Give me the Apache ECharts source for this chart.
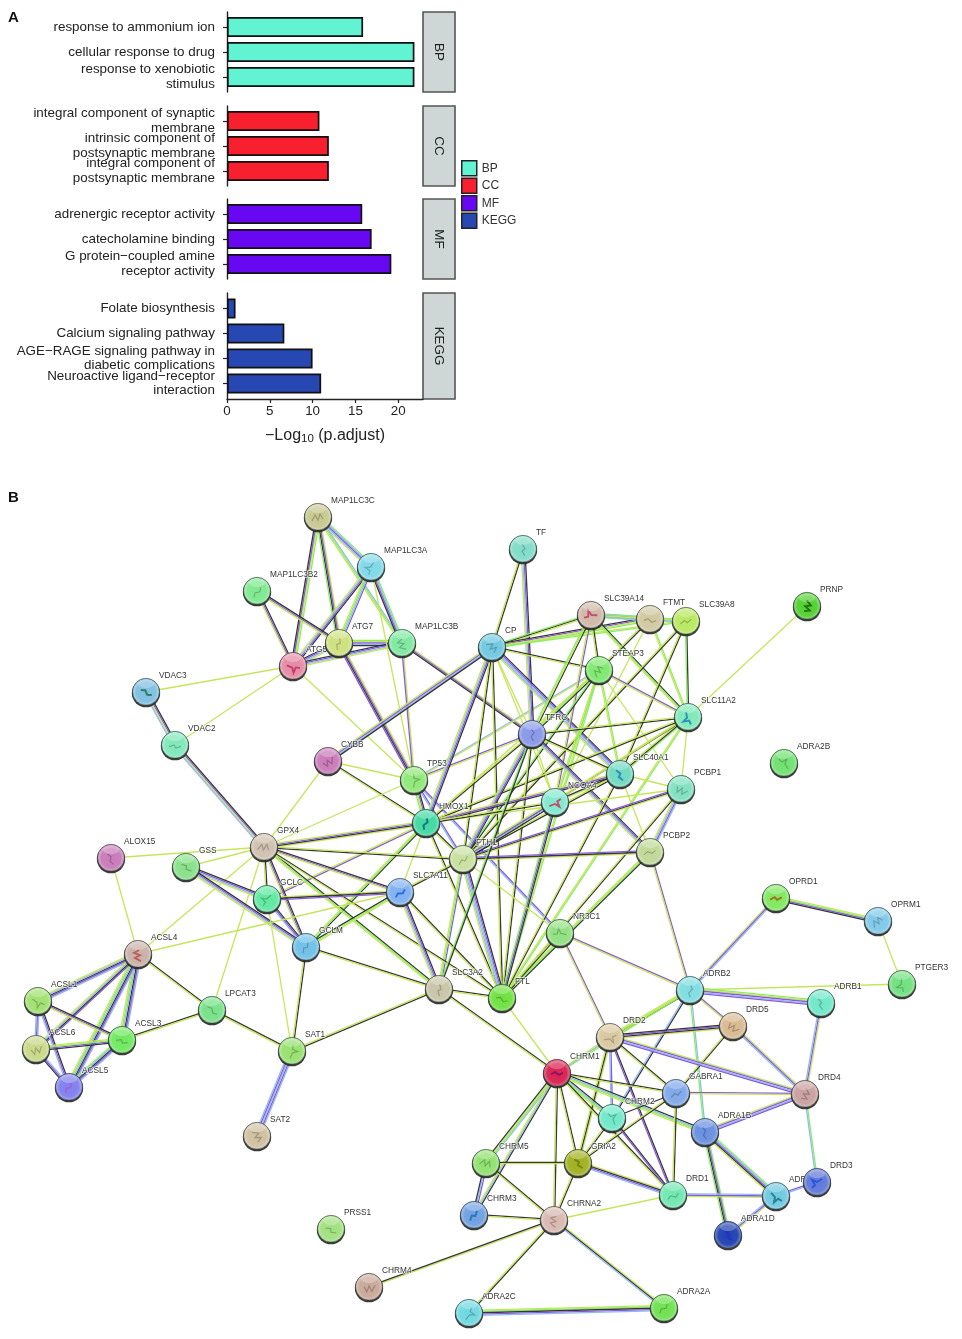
<!DOCTYPE html>
<html><head><meta charset="utf-8">
<style>html,body{margin:0;padding:0;background:#fff}#c{width:962px;height:1339px;filter:blur(0.55px)}</style>
<script src="https://cdn.jsdelivr.net/npm/echarts@6/dist/echarts.min.js"></script>
</head><body><div id="c"></div>
<script>
const bpTerms=['response to ammonium ion','cellular response to drug','response to xenobiotic\nstimulus'];
const bpValues=[15.9,21.9,21.9];
const ccTerms=['integral component of synaptic\nmembrane','intrinsic component of\npostsynaptic membrane','integral component of\npostsynaptic membrane'];
const ccValues=[10.8,11.9,11.9];
const mfTerms=['adrenergic receptor activity','catecholamine binding','G protein\u2212coupled amine\nreceptor activity'];
const mfValues=[15.8,16.9,19.2];
const keggTerms=['Folate biosynthesis','Calcium signaling pathway','AGE\u2212RAGE signaling pathway in\ndiabetic complications','Neuroactive ligand\u2212receptor\ninteraction'];
const keggValues=[1.0,6.7,10.0,11.0];
const xTicks=[0,5,10,15,20];

const nodeNames=['MAP1LC3C','MAP1LC3A','MAP1LC3B2','ATG7','MAP1LC3B','ATG5','VDAC3','VDAC2','CYBB','TP53','HMOX1','TF','CP','SLC39A14','FTMT','SLC39A8','STEAP3','SLC11A2','TFRC','SLC40A1','PCBP1','NCOA4','PCBP2','FTH1','PRNP','ADRA2B','ALOX15','GSS','GPX4','GCLC','SLC7A11','GCLM','ACSL4','ACSL1','LPCAT3','ACSL3','ACSL6','SAT1','ACSL5','SLC3A2','SAT2','NR3C1','FTL','OPRD1','OPRM1','PTGER3','ADRB2','ADRB1','DRD5','DRD2','CHRM1','GABRA1','DRD4','CHRM2','ADRA1B','GRIA2','CHRM5','DRD3','DRD1','CHRM3','CHRNA2','ADRA1A','ADRA1D','PRSS1','CHRM4','ADRA2C','ADRA2A'];
const nodeX=[318,371,257,339,402,293,146,175,328,414,426,523,492,591,650,686,599,688,532,620,681,555,650,463,807,784,111,186,264,267,400,306,138,38,212,122,36,292,69,439,257,560,502,776,878,902,690,821,733,610,557,676,805,612,705,578,486,817,673,474,554,776,728,331,369,469,664];
const nodeY=[517,567,591,643,643,666,692,745,761,780,823,549,647,615,619,621,670,717,734,774,789,802,852,859,606,763,858,867,847,899,892,947,954,1001,1010,1040,1049,1051,1087,989,1136,933,998,898,921,984,990,1003,1026,1037,1073,1093,1094,1118,1132,1163,1163,1182,1195,1215,1220,1196,1235,1229,1287,1313,1308];
const nodeColours=['#c6c78f','#7fd8e8','#7fe88f','#cfe07f','#7fe8a0','#e58aa5','#7fbfe0','#7fe8bb','#c87ab8','#8fe878','#40d8a0','#80dcc8','#6fc8e0','#d0b8a8','#d0c8a0','#b8e860','#80e870','#80e8b8','#8898e8','#70d8c0','#80e0c0','#80e8d0','#c0d898','#c8e0a0','#50d030','#70e070','#c87ab8','#88e088','#d0c0b0','#60e8a0','#80b0f0','#70c0e8','#c8b0a8','#a0e070','#78e088','#70e860','#c8d888','#98e070','#8080f0','#c8c4a8','#d0c0a0','#90e080','#70e040','#80e860','#80c8e8','#70e080','#80dce0','#70e8c8','#d8b890','#d8c8a0','#d82050','#80a8e8','#c8a0a0','#70e8c8','#6890e0','#a0b020','#90e070','#6078d8','#70e8b0','#70a0e0','#d8b8b0','#70c8e0','#2040b0','#a0e080','#c8a898','#70d8e0','#70e050'];
const glyphColours={NCOA4:'#d0305a',SLC7A11:'#2060e0',ADRA1D:'#2030d0',ACSL5:'#a060d0',ATG5:'#c03060',SLC11A2:'#2080c0',SLC40A1:'#2080c0',GRIA2:'#708010',CHRM1:'#801060',HMOX1:'#106080',PRNP:'#206010',OPRD1:'#a06010',ACSL4:'#c05050',VDAC3:'#207050',SLC39A14:'#c04060',CHRM3:'#2070c0',DRD3:'#2050e0',ADRA1A:'#207080'};
const edges=[
['MAP1LC3C','MAP1LC3A','gbpbt'],['MAP1LC3C','ATG5','gtpk'],['MAP1LC3C','ATG7','tpkg'],['MAP1LC3C','MAP1LC3B','bgt'],['MAP1LC3A','ATG5','kpbt'],['MAP1LC3A','ATG7','pbgt'],['MAP1LC3A','MAP1LC3B','gbpk'],['MAP1LC3B2','ATG5','kpt'],['MAP1LC3B2','ATG7','kpt'],['ATG7','MAP1LC3B','gtpbk'],['ATG5','ATG7','kpbt'],['ATG5','MAP1LC3B','kpbt'],['ATG5','VDAC3','t'],['ATG5','VDAC2','t'],['ATG5','TP53','t'],['ATG7','TP53','tpkp'],['MAP1LC3A','TP53','t'],['MAP1LC3B','TP53','tp'],['MAP1LC3B','TFRC','tpk'],['VDAC3','VDAC2','kptb'],['VDAC2','GPX4','kptb'],
['CYBB','CP','tpbk'],['CYBB','TP53','t'],['CYBB','HMOX1','kt'],['CYBB','GPX4','t'],['TP53','HMOX1','kptg'],['TP53','GPX4','t'],['TP53','TFRC','pt'],['TP53','STEAP3','bt'],['TP53','FTH1','pb'],['TP53','NR3C1','pb'],
['TF','CP','kt'],['TF','TFRC','kpbt'],['CP','SLC39A14','gkt'],['CP','FTMT','kptg'],['CP','SLC39A8','tg'],['CP','STEAP3','kt'],['CP','TFRC','t'],['CP','HMOX1','kpbt'],['CP','FTH1','kt'],['CP','FTL','kt'],['CP','SLC40A1','kpbbt'],['CP','NCOA4','t'],
['SLC39A14','FTMT','bpbg'],['FTMT','SLC39A8','bb'],['SLC39A14','SLC39A8','gtb'],['SLC39A14','STEAP3','kt'],['SLC39A14','SLC11A2','kgt'],['SLC39A14','TFRC','ktg'],['SLC39A14','NCOA4','pt'],['FTMT','STEAP3','kt'],['FTMT','NCOA4','t'],['FTMT','SLC11A2','gt'],['SLC39A8','SLC11A2','kg'],['SLC39A8','SLC40A1','kt'],['SLC39A8','FTH1','kt'],
['STEAP3','SLC11A2','pt'],['STEAP3','TFRC','kgt'],['STEAP3','SLC40A1','gt'],['STEAP3','PCBP1','t'],['STEAP3','FTL','gt'],['STEAP3','FTH1','kg'],['STEAP3','HMOX1','t'],['STEAP3','NCOA4','gt'],['SLC11A2','TFRC','kt'],['SLC11A2','SLC40A1','gkt'],['SLC11A2','FTH1','kt'],['SLC11A2','HMOX1','kt'],['SLC11A2','FTL','gt'],['SLC11A2','PCBP1','t'],['SLC11A2','PRNP','t'],['SLC11A2','NCOA4','t'],
['TFRC','SLC40A1','kt'],['TFRC','PCBP2','kpbt'],['TFRC','FTH1','kpbt'],['TFRC','FTL','kt'],['TFRC','HMOX1','kt'],['TFRC','NCOA4','t'],['SLC40A1','FTH1','kt'],['SLC40A1','HMOX1','kpt'],['SLC40A1','FTL','kt'],['SLC40A1','PCBP1','t'],['SLC40A1','PCBP2','t'],['SLC40A1','NCOA4','tk'],['PCBP1','PCBP2','bpbt'],['PCBP1','FTH1','tkp'],['PCBP1','FTL','kt'],['PCBP1','HMOX1','t'],['NCOA4','FTH1','kbpt'],['NCOA4','FTL','kpg'],['NCOA4','HMOX1','kt'],['PCBP2','FTH1','tkp'],['PCBP2','FTL','kgt'],['PCBP2','ADRB2','pt'],
['HMOX1','GPX4','tkpt'],['HMOX1','FTH1','kt'],['HMOX1','FTL','kt'],['HMOX1','SLC7A11','t'],['HMOX1','GCLM','kgt'],['HMOX1','GCLC','pt'],['FTH1','GPX4','kt'],['FTH1','SLC7A11','kt'],['FTH1','FTL','kpbbt'],['FTH1','SLC3A2','pgt'],['FTH1','NR3C1','t'],
['GPX4','ALOX15','t'],['GPX4','GSS','t'],['GPX4','GCLC','kt'],['GPX4','GCLM','kpt'],['GPX4','SLC7A11','kpt'],['GPX4','SLC3A2','kgt'],['GPX4','FTL','kt'],['GPX4','ACSL4','t'],['GPX4','LPCAT3','t'],['GSS','GCLC','kpbt'],['GSS','GCLM','kpbt'],['GCLC','GCLM','kpb'],['GCLC','SLC7A11','tkp'],['GCLC','SAT1','t'],['ACSL4','SLC7A11','t'],['GCLM','SLC7A11','kgt'],['GCLM','SLC3A2','kt'],['GCLM','SAT1','kt'],['SLC7A11','SLC3A2','kpbt'],['SLC7A11','FTL','kt'],['SLC3A2','FTL','kt'],['SLC3A2','SAT1','kt'],['SLC3A2','CHRM1','kt'],['SLC3A2','TFRC','gk'],
['ACSL4','ALOX15','t'],['ACSL4','ACSL1','bpkbt'],['ACSL4','ACSL3','bpkbgt'],['ACSL4','ACSL5','bpkbgt'],['ACSL4','ACSL6','pkbt'],['ACSL1','ACSL3','kpt'],['ACSL1','ACSL5','kpb'],['ACSL1','ACSL6','bpb'],['ACSL3','ACSL5','bpkbg'],['ACSL3','ACSL6','kpgt'],['ACSL5','ACSL6','kpb'],['ACSL4','LPCAT3','kt'],['ACSL3','LPCAT3','kt'],['LPCAT3','SAT1','kt'],['SAT1','SAT2','bpbpb'],['FTL','CHRM1','t'],['NR3C1','FTL','kt'],['NR3C1','ADRB2','pt'],['NR3C1','DRD2','pt'],
['ADRB2','OPRD1','tpb'],['OPRD1','OPRM1','tgpk'],['OPRM1','PTGER3','t'],['ADRB2','PTGER3','t'],['ADRB2','ADRB1','gtpbp'],['ADRB2','DRD5','pt'],['ADRB2','DRD2','kgt'],['ADRB2','CHRM2','kb'],['ADRB2','CHRM1','gt'],['ADRB2','ADRA1B','bg'],['ADRB1','DRD4','tpb'],['DRD5','DRD2','tkpk'],['DRD5','DRD4','tpb'],['DRD5','GABRA1','kt'],['DRD2','DRD4','tpbp'],['DRD2','CHRM1','bt'],['DRD2','GABRA1','kt'],['DRD2','CHRM2','pb'],['DRD2','DRD1','kp'],['DRD2','GRIA2','tkt'],
['CHRM1','GABRA1','kt'],['CHRM1','CHRM2','kbgt'],['CHRM1','ADRA1B','kbgt'],['CHRM1','CHRM5','bgtk'],['CHRM1','CHRM3','kbt'],['CHRM1','GRIA2','kt'],['CHRM1','DRD1','kt'],['CHRM1','CHRNA2','kt'],['GABRA1','DRD4','pt'],['GABRA1','DRD1','kt'],['GABRA1','GRIA2','kt'],['CHRM2','GABRA1','k'],['CHRM2','DRD1','kp'],['CHRM2','GRIA2','kt'],['ADRA1B','DRD4','tpbp'],['ADRA1B','ADRA1A','gbpkt'],['ADRA1B','ADRA1D','gpkg'],['ADRA1A','ADRA1D','tpb'],['ADRA1A','DRD3','pb'],['ADRA1A','DRD1','tpb'],['DRD4','DRD3','gb'],['GRIA2','DRD1','tkpb'],['GRIA2','CHRM5','tk'],['GRIA2','CHRNA2','kt'],['CHRM5','CHRM3','pbk'],['CHRM5','CHRNA2','kt'],['CHRM3','CHRNA2','kt'],['CHRNA2','CHRM4','tk'],['CHRNA2','ADRA2C','kt'],['CHRNA2','ADRA2A','tkb'],['CHRNA2','DRD1','t'],['ADRA2C','ADRA2A','tgkpb']
];
const channelColours={t:'#c5e65c',k:'#2c2c2c',p:'#8a5ad8',b:'#92baf2',g:'#86f060'};

const font='"Liberation Sans",Arial,sans-serif';
const idx=Object.fromEntries(nodeNames.map((n,i)=>[n,i]));
const panels=[
 {name:'BP',terms:bpTerms,values:bpValues,colour:'#62f4d2',top:12,h:80},
 {name:'CC',terms:ccTerms,values:ccValues,colour:'#f8202e',top:106,h:80},
 {name:'MF',terms:mfTerms,values:mfValues,colour:'#6808f2',top:199,h:80},
 {name:'KEGG',terms:keggTerms,values:keggValues,colour:'#2747b2',top:293,h:106}
];
const L=227,W=196,XMAX=22.9,SP=25;
const grid=[],xAxis=[],yAxis=[],series=[],graphic=[];
panels.forEach((p,i)=>{
  const band=p.terms.length*SP;
  grid.push({left:L,width:W,top:p.top+(p.h-band)/2,height:band});
  xAxis.push({gridIndex:i,type:'value',min:0,max:XMAX,show:false});
  yAxis.push({gridIndex:i,type:'category',inverse:true,data:p.terms,
    axisLine:{show:false},axisTick:{show:true,alignWithLabel:true,length:4,lineStyle:{color:'#222',width:1.2}},
    axisLabel:{interval:0,margin:12,color:'#222',fontSize:13.4,lineHeight:14.5,fontFamily:font,align:'right'}});
  series.push({name:p.name,type:'bar',xAxisIndex:i,yAxisIndex:i,data:p.values,barWidth:20,silent:true,
    itemStyle:{color:p.colour,borderColor:'#111',borderWidth:1.7}});
  graphic.push({type:'rect',shape:{x:423,y:p.top,width:32,height:p.h},style:{fill:'#ced6d6',stroke:'#555',lineWidth:1.6}});
  graphic.push({type:'text',x:438.5,y:p.top+p.h/2,rotation:-Math.PI/2,style:{text:p.name,fontSize:13.4,fontFamily:font,fill:'#222',align:'center',verticalAlign:'middle'}});
});
panels.forEach((p,i)=>{
  const g=4+i,last=i===3;
  grid.push({left:L,width:W,top:p.top,height:p.h});
  xAxis.push({gridIndex:g,type:'value',min:0,max:XMAX,show:last,splitLine:{show:false},
    name:last?'{a|\u2212Log}{s|10}{a| (p.adjust)}':'',nameLocation:'middle',nameGap:27,
    nameTextStyle:{rich:{a:{fontSize:16,fontFamily:font,color:'#222'},s:{fontSize:11.5,fontFamily:font,color:'#222',verticalAlign:'bottom',padding:[7,0,0,0]}}},
    axisLine:{show:true,onZero:false,lineStyle:{color:'#222',width:1.4}},
    axisTick:{show:true,length:4,customValues:xTicks,lineStyle:{color:'#222',width:1.2}},
    axisLabel:{customValues:xTicks,color:'#222',fontSize:13.4,fontFamily:font,margin:6}});
  yAxis.push({gridIndex:g,type:'value',min:0,max:1,axisLabel:{show:false},axisTick:{show:false},splitLine:{show:false},
    axisLine:{show:true,onZero:false,lineStyle:{color:'#222',width:1.4}}});
});
grid.push({left:0,top:0,width:962,height:1339});
xAxis.push({gridIndex:8,type:'value',min:0,max:962,show:false});
yAxis.push({gridIndex:8,type:'value',min:0,max:1339,inverse:true,show:false});

series.push({type:'custom',name:'edges',xAxisIndex:8,yAxisIndex:8,silent:true,z:1,clip:false,
  data:edges.map((e,i)=>[i,0]),
  renderItem(params,api){
    const e=edges[api.value(0)];
    const a=api.coord([nodeX[idx[e[0]]],nodeY[idx[e[0]]]]),b=api.coord([nodeX[idx[e[1]]],nodeY[idx[e[1]]]]);
    const dx=b[0]-a[0],dy=b[1]-a[1],len=Math.hypot(dx,dy)||1,nx=-dy/len,ny=dx/len;
    const n=e[2].length,gap=1.3;
    return {type:'group',children:e[2].split('').map((c,k)=>{
      const o=(k-(n-1)/2)*gap;
      return {type:'line',shape:{x1:a[0]+nx*o,y1:a[1]+ny*o,x2:b[0]+nx*o,y2:b[1]+ny*o},
        style:{stroke:channelColours[c],lineWidth:1.3,opacity:c==='k'?.95:1}};
    })};
  }});
series.push({type:'custom',name:'labels',xAxisIndex:8,yAxisIndex:8,silent:true,z:2,clip:false,
  data:nodeNames.map((n,i)=>[nodeX[i],nodeY[i],i]),
  renderItem(params,api){
    const p=api.coord([api.value(0),api.value(1)]);
    return {type:'text',x:p[0]+13,y:p[1]-16,style:{text:nodeNames[api.value(2)],fontSize:8.3,fontFamily:font,fill:'#333',
      align:'left',verticalAlign:'middle',stroke:'rgba(255,255,255,.75)',lineWidth:1.5}};
  }});
function mix(hex,t,to){
  const v=parseInt(hex.slice(1),16),r=v>>16,g=(v>>8)&255,b=v&255,q=to==='w'?255:0;
  const f=x=>Math.round(x+(q-x)*t);
  return 'rgb('+f(r)+','+f(g)+','+f(b)+')';
}
const glyphShapes=[[[-6,3],[-3,-3],[0,2],[2,-4],[5,1]],[[-4,-5],[-1,0],[-3,5],[2,2],[5,5]],[[-6,0],[-2,-2],[2,1],[6,-1]],[[0,-6],[2,-1],[-1,1],[1,6]]];
series.push({type:'custom',name:'nodes',xAxisIndex:8,yAxisIndex:8,silent:true,z:3,clip:false,
  data:nodeNames.map((n,i)=>[nodeX[i],nodeY[i],i]),
  renderItem(params,api){
    const i=api.value(2),p=api.coord([api.value(0),api.value(1)]),c=nodeColours[i],gc=glyphColours[nodeNames[i]];
    const ang=i*1.13,sq=glyphShapes[i%4].map(q=>[q[0]*Math.cos(ang)-q[1]*Math.sin(ang),1+q[0]*Math.sin(ang)+q[1]*Math.cos(ang)]);
    return {type:'group',x:p[0],y:p[1],children:[
      {type:'circle',shape:{cx:0,cy:1.1,r:14.2},style:{fill:'rgba(40,45,40,.92)'}},
      {type:'circle',shape:{cx:0,cy:-.3,r:13.4},style:{stroke:'rgba(55,65,65,.6)',lineWidth:.9,
        fill:new echarts.graphic.RadialGradient(.5,.52,.5,[{offset:0,color:c},{offset:.7,color:mix(c,.05,'w')},{offset:.93,color:mix(c,.35,'w')},{offset:1,color:mix(c,.2,'k')}])}},
      {type:'polyline',shape:{points:sq},style:{fill:'none',stroke:gc||mix(c,.4,'k'),lineWidth:gc?1.9:1.2,opacity:gc?.85:.55}},
      {type:'ellipse',shape:{cx:0,cy:-8,rx:8,ry:4},style:{fill:'rgba(255,255,255,.25)'}}
    ]};
  }});

const chart=echarts.init(document.getElementById('c'),null,{renderer:'canvas'});
chart.setOption({animation:false,backgroundColor:'#fff',
  title:[{text:'A',left:8,top:10,padding:0,textStyle:{fontSize:15,fontWeight:'bold',fontFamily:font,color:'#111'}},
         {text:'B',left:8,top:490,padding:0,textStyle:{fontSize:15,fontWeight:'bold',fontFamily:font,color:'#111'}}],
  legend:{data:['BP','CC','MF','KEGG'],orient:'vertical',left:461,top:160,itemWidth:15,itemHeight:15,itemGap:1,padding:0,selectedMode:false,icon:'rect',
    itemStyle:{borderWidth:1.5,borderColor:'#222'},
    textStyle:{fontSize:12,fontFamily:font,color:'#333'}},
  grid,xAxis,yAxis,series,graphic:{elements:graphic}});
</script></body></html>
